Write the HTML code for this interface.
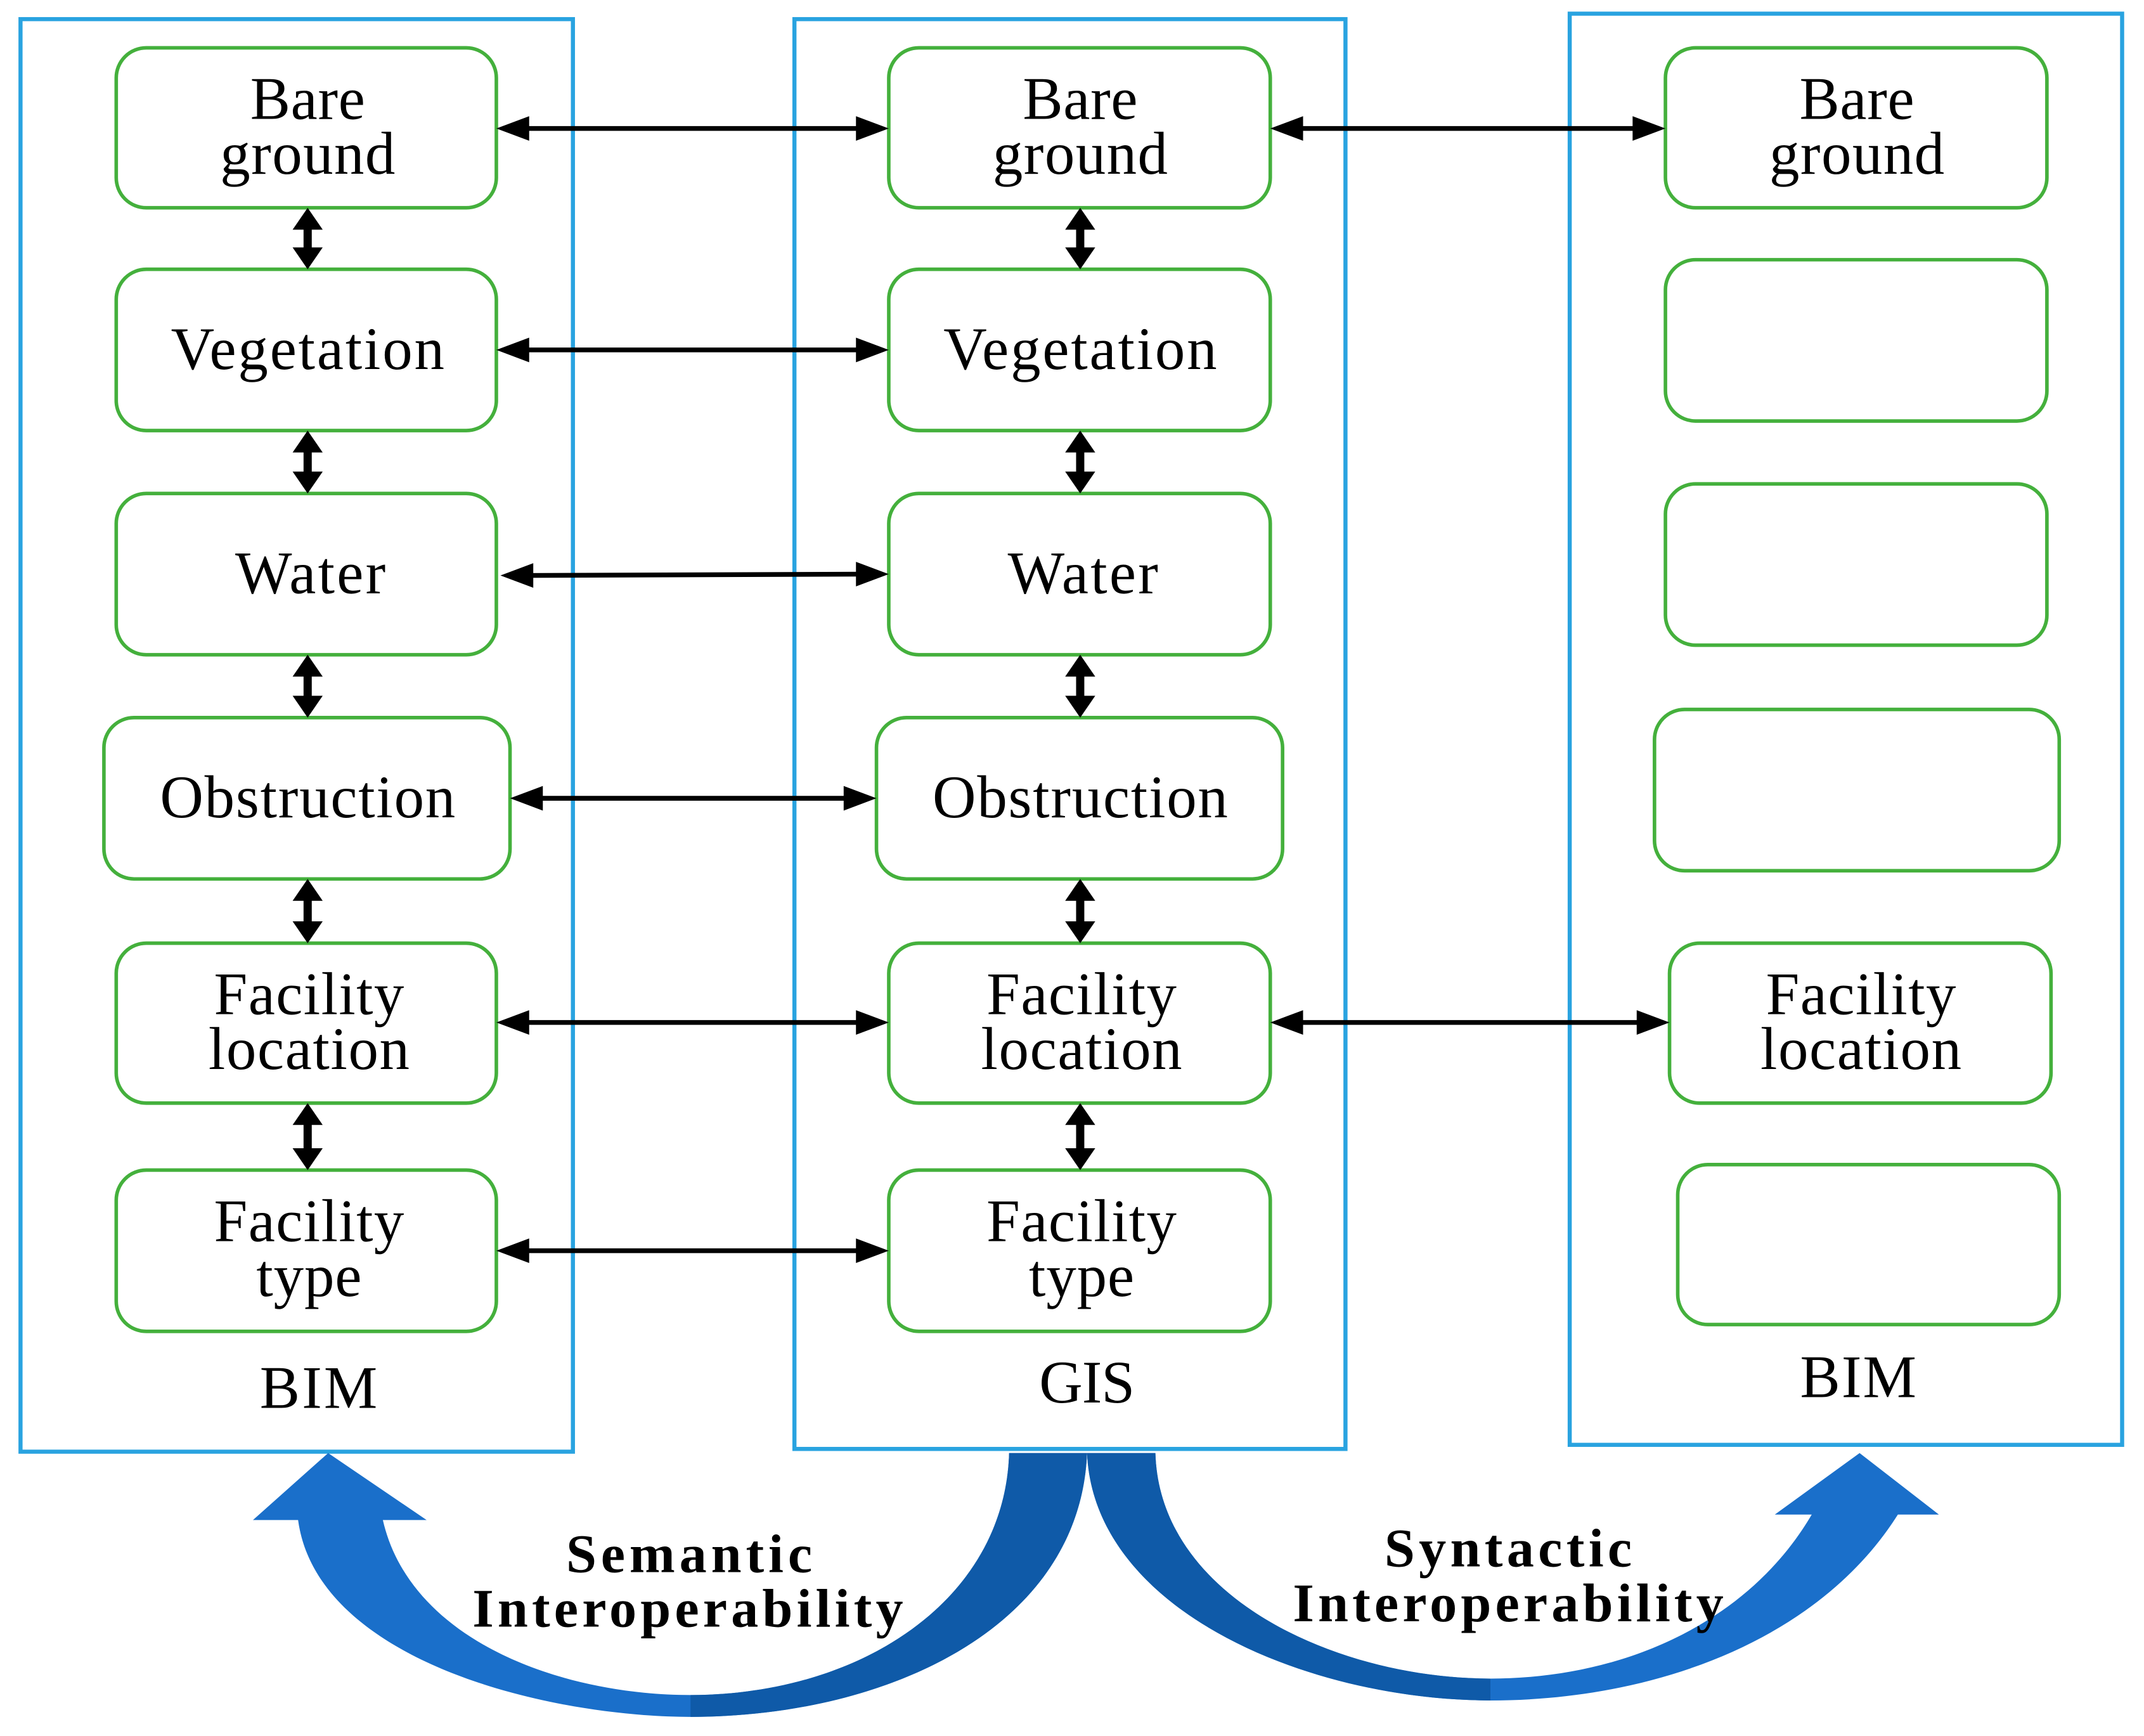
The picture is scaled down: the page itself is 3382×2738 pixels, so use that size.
<!DOCTYPE html>
<html><head><meta charset="utf-8"><style>
html,body{margin:0;padding:0;background:#fff;}
svg{display:block;}
text{font-family:"Liberation Serif",serif;fill:#000;}
</style></head><body>
<svg width="3382" height="2738" viewBox="0 0 1568 1270" preserveAspectRatio="none" xmlns="http://www.w3.org/2000/svg">
<g fill="none" stroke="#29a3e0" stroke-width="3">
<rect x="15" y="14" width="404" height="1048"/>
<rect x="581" y="14" width="403" height="1046"/>
<rect x="1148" y="10" width="404" height="1047"/>
</g>
<g fill="#fff" stroke="#44b03c" stroke-width="2.6">
<rect x="85" y="35" width="278" height="117" rx="22"/>
<rect x="85" y="197" width="278" height="118" rx="22"/>
<rect x="85" y="361" width="278" height="118" rx="22"/>
<rect x="76" y="525" width="297" height="118" rx="22"/>
<rect x="85" y="690" width="278" height="117" rx="22"/>
<rect x="85" y="856" width="278" height="118" rx="22"/>
<rect x="650" y="35" width="279" height="117" rx="22"/>
<rect x="650" y="197" width="279" height="118" rx="22"/>
<rect x="650" y="361" width="279" height="118" rx="22"/>
<rect x="641" y="525" width="297" height="118" rx="22"/>
<rect x="650" y="690" width="279" height="117" rx="22"/>
<rect x="650" y="856" width="279" height="118" rx="22"/>
<rect x="1218" y="35" width="279" height="117" rx="22"/>
<rect x="1218" y="190" width="279" height="118" rx="22"/>
<rect x="1218" y="354" width="279" height="118" rx="22"/>
<rect x="1210" y="519" width="296" height="118" rx="22"/>
<rect x="1221" y="690" width="279" height="117" rx="22"/>
<rect x="1227" y="852" width="279" height="117" rx="22"/>
</g>
<g font-size="44" text-anchor="middle">
<text x="225" y="87" textLength="84">Bare</text>
<text x="225" y="127" textLength="128">ground</text>
<text x="225" y="270" textLength="200">Vegetation</text>
<text x="227" y="434" textLength="110">Water</text>
<text x="225" y="598" textLength="216">Obstruction</text>
<text x="226" y="742" textLength="139">Facility</text>
<text x="226" y="782" textLength="147">location</text>
<text x="226" y="908" textLength="139">Facility</text>
<text x="226" y="948" textLength="77">type</text>
<text x="790" y="87" textLength="84">Bare</text>
<text x="790" y="127" textLength="128">ground</text>
<text x="790" y="270" textLength="200">Vegetation</text>
<text x="792" y="434" textLength="110">Water</text>
<text x="790" y="598" textLength="216">Obstruction</text>
<text x="791" y="742" textLength="139">Facility</text>
<text x="791" y="782" textLength="147">location</text>
<text x="791" y="908" textLength="139">Facility</text>
<text x="791" y="948" textLength="77">type</text>
<text x="1358" y="87" textLength="84">Bare</text>
<text x="1358" y="127" textLength="128">ground</text>
<text x="1361" y="742" textLength="139">Facility</text>
<text x="1361" y="782" textLength="147">location</text>
<text x="233" y="1030" textLength="86">BIM</text>
<text x="795" y="1026" textLength="70">GIS</text>
<text x="1359" y="1022" textLength="85">BIM</text>
</g>
<g stroke="#000" stroke-width="3.5">
<line x1="380" y1="94" x2="633" y2="94"/>
<line x1="380" y1="256" x2="633" y2="256"/>
<line x1="385" y1="421" x2="633" y2="420"/>
<line x1="390" y1="584" x2="624" y2="584"/>
<line x1="380" y1="748" x2="633" y2="748"/>
<line x1="380" y1="915" x2="633" y2="915"/>
<line x1="946" y1="94" x2="1201" y2="94"/>
<line x1="946" y1="748" x2="1204" y2="748"/>
</g>
<g fill="#000">
<polygon points="363,94 387,85 387,103"/><polygon points="650,94 626,85 626,103"/>
<polygon points="363,256 387,247 387,265"/><polygon points="650,256 626,247 626,265"/>
<polygon points="366,421 390,412 390,430"/><polygon points="650,420 626,411 626,429"/>
<polygon points="373,584 397,575 397,593"/><polygon points="641,584 617,575 617,593"/>
<polygon points="363,748 387,739 387,757"/><polygon points="650,748 626,739 626,757"/>
<polygon points="363,915 387,906 387,924"/><polygon points="650,915 626,906 626,924"/>
<polygon points="929,94 953,85 953,103"/><polygon points="1218,94 1194,85 1194,103"/>
<polygon points="929,748 953,739 953,757"/><polygon points="1221,748 1197,739 1197,757"/>
</g>
<g fill="#000">
<path d="M225,152 L236,168 L228,168 L228,181 L236,181 L225,197 L214,181 L222,181 L222,168 L214,168 Z"/>
<path d="M225,315 L236,331 L228,331 L228,345 L236,345 L225,361 L214,345 L222,345 L222,331 L214,331 Z"/>
<path d="M225,479 L236,495 L228,495 L228,509 L236,509 L225,525 L214,509 L222,509 L222,495 L214,495 Z"/>
<path d="M225,643 L236,659 L228,659 L228,674 L236,674 L225,690 L214,674 L222,674 L222,659 L214,659 Z"/>
<path d="M225,807 L236,823 L228,823 L228,840 L236,840 L225,856 L214,840 L222,840 L222,823 L214,823 Z"/>
<path d="M790,152 L801,168 L793,168 L793,181 L801,181 L790,197 L779,181 L787,181 L787,168 L779,168 Z"/>
<path d="M790,315 L801,331 L793,331 L793,345 L801,345 L790,361 L779,345 L787,345 L787,331 L779,331 Z"/>
<path d="M790,479 L801,495 L793,495 L793,509 L801,509 L790,525 L779,509 L787,509 L787,495 L779,495 Z"/>
<path d="M790,643 L801,659 L793,659 L793,674 L801,674 L790,690 L779,674 L787,674 L787,659 L779,659 Z"/>
<path d="M790,807 L801,823 L793,823 L793,840 L801,840 L790,856 L779,840 L787,840 L787,823 L779,823 Z"/>
</g>
<path fill="#1a6fca" d="M218,1112 C232,1215 400,1256 505,1256 C650,1256 790,1190 795,1063 L738,1063 C735,1170 630,1240 505,1240 C410,1240 300,1200 280,1112 L312,1112 L240,1063 L185,1112 Z"/>
<path fill="#0f5aa8" d="M505,1256 C650,1256 790,1190 795,1063 L738,1063 C735,1170 630,1240 505,1240 Z"/>
<path fill="#1a6fca" d="M795,1063 C800,1180 960,1244 1090,1244 C1210,1244 1330,1200 1388,1108 L1418,1108 L1360,1063 L1298,1108 L1325,1108 C1280,1185 1190,1228 1090,1228 C980,1228 848,1170 845,1063 Z"/>
<path fill="#0f5aa8" d="M795,1063 C800,1180 960,1244 1090,1244 L1090,1228 C980,1228 848,1170 845,1063 Z"/>
<g font-size="40" font-weight="bold" text-anchor="middle">
<text x="504" y="1150" textLength="180">Semantic</text>
<text x="503" y="1190" textLength="315">Interoperability</text>
<text x="1103" y="1146" textLength="181">Syntactic</text>
<text x="1103" y="1186" textLength="315">Interoperability</text>
</g>
</svg>
</body></html>
